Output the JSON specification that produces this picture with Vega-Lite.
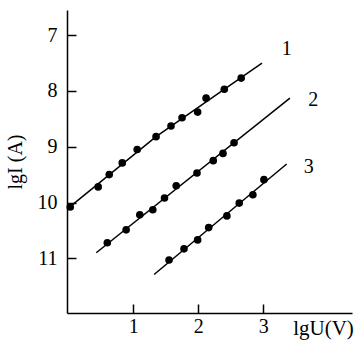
{
  "$schema": "https://vega.github.io/schema/vega-lite/v6.json",
  "width": 285,
  "height": 303,
  "autosize": {"type": "none"},
  "padding": {"left": 67, "top": 10, "right": 9, "bottom": 32},
  "config": {
    "view": {"stroke": null},
    "font": "Liberation Serif"
  },
  "datasets": {
    "pts": [
      {"series": "1", "x": 0.03, "y": 10.08},
      {"series": "1", "x": 0.46, "y": 9.72},
      {"series": "1", "x": 0.63, "y": 9.5},
      {"series": "1", "x": 0.83, "y": 9.29},
      {"series": "1", "x": 1.06, "y": 9.05},
      {"series": "1", "x": 1.35, "y": 8.82},
      {"series": "1", "x": 1.58, "y": 8.63},
      {"series": "1", "x": 1.75, "y": 8.48},
      {"series": "1", "x": 1.99, "y": 8.38},
      {"series": "1", "x": 2.12, "y": 8.13},
      {"series": "1", "x": 2.4, "y": 7.97},
      {"series": "1", "x": 2.66, "y": 7.77},
      {"series": "2", "x": 0.6, "y": 10.72},
      {"series": "2", "x": 0.89, "y": 10.49},
      {"series": "2", "x": 1.1, "y": 10.22},
      {"series": "2", "x": 1.3, "y": 10.13},
      {"series": "2", "x": 1.48, "y": 9.92},
      {"series": "2", "x": 1.66, "y": 9.7},
      {"series": "2", "x": 1.98, "y": 9.47},
      {"series": "2", "x": 2.23, "y": 9.25},
      {"series": "2", "x": 2.38, "y": 9.12},
      {"series": "2", "x": 2.55, "y": 8.93},
      {"series": "3", "x": 1.55, "y": 11.03},
      {"series": "3", "x": 1.78, "y": 10.83},
      {"series": "3", "x": 1.99, "y": 10.67},
      {"series": "3", "x": 2.16, "y": 10.45},
      {"series": "3", "x": 2.44, "y": 10.24},
      {"series": "3", "x": 2.63, "y": 10.01},
      {"series": "3", "x": 2.84, "y": 9.86},
      {"series": "3", "x": 3.01, "y": 9.59}
    ],
    "lines": [
      {"series": "1", "x": 0.0, "y": 10.1},
      {"series": "1", "x": 1.35, "y": 8.82},
      {"series": "1", "x": 2.98, "y": 7.5},
      {"series": "2", "x": 0.43, "y": 10.9},
      {"series": "2", "x": 3.41, "y": 8.13},
      {"series": "3", "x": 1.32, "y": 11.29},
      {"series": "3", "x": 3.36, "y": 9.31}
    ],
    "labels": [
      {"series": "1", "x": 3.36, "y": 7.25},
      {"series": "2", "x": 3.77, "y": 8.16},
      {"series": "3", "x": 3.7, "y": 9.36}
    ]
  },
  "encoding": {
    "x": {
      "field": "x",
      "type": "quantitative",
      "scale": {"domain": [-0.02, 4.365], "nice": false, "zero": false},
      "axis": {
        "title": "lgU(V)",
        "values": [1, 2, 3],
        "format": "d",
        "grid": false,
        "tickSize": -9,
        "labelPadding": 22,
        "labelBaseline": "middle",
        "labelFontSize": 20,
        "labelColor": "black",
        "labelFlush": false,
        "domainColor": "black",
        "domainWidth": 1.5,
        "tickColor": "black",
        "tickWidth": 1.5,
        "titleFontSize": 21,
        "titleFontWeight": "normal",
        "titleColor": "black",
        "titleX": 256,
        "titleY": 15,
        "titleAlign": "center",
        "titleBaseline": "middle"
      }
    },
    "y": {
      "field": "y",
      "type": "quantitative",
      "scale": {"domain": [6.55, 11.98], "nice": false, "zero": false, "reverse": true},
      "axis": {
        "title": "lgI (A)",
        "values": [7, 8, 9, 10, 11],
        "format": "d",
        "grid": false,
        "tickSize": -9,
        "labelPadding": 19,
        "labelFontSize": 20,
        "labelColor": "black",
        "labelFlush": false,
        "domainColor": "black",
        "domainWidth": 1.5,
        "tickColor": "black",
        "tickWidth": 1.5,
        "titleFontSize": 20,
        "titleFontWeight": "normal",
        "titleColor": "black",
        "titleX": -52,
        "titleY": 151.5,
        "titleAngle": -90,
        "titleAlign": "center",
        "titleBaseline": "middle"
      }
    }
  },
  "layer": [
    {
      "data": {"name": "lines"},
      "mark": {"type": "line", "color": "black", "strokeWidth": 1.5},
      "encoding": {"detail": {"field": "series"}}
    },
    {
      "data": {"name": "pts"},
      "mark": {"type": "point", "filled": true, "color": "black", "opacity": 1, "size": 58}
    },
    {
      "data": {"name": "labels"},
      "mark": {"type": "text", "fontSize": 20, "color": "black", "align": "center", "baseline": "middle", "font": "Liberation Serif"},
      "encoding": {"text": {"field": "series"}}
    }
  ]
}
